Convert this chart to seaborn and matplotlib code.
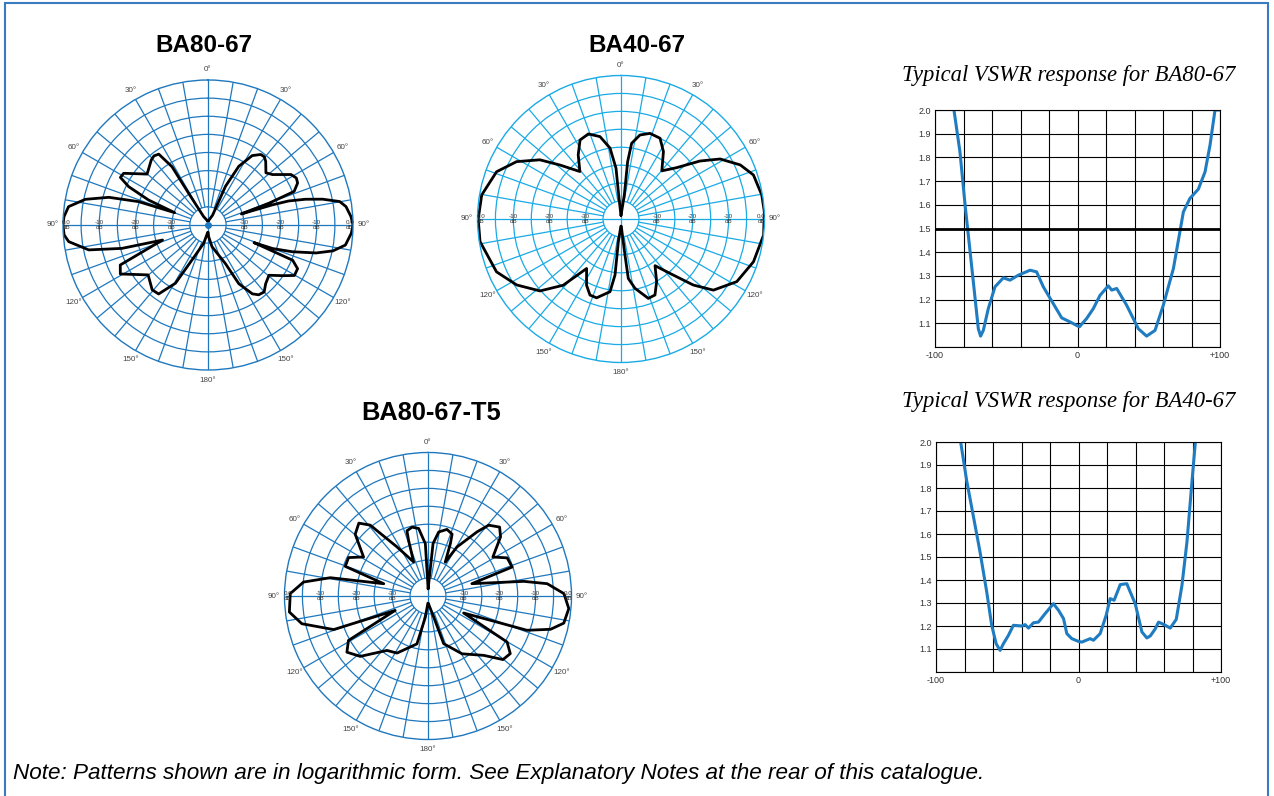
import numpy as np
import pandas as pd
import seaborn as sns
import matplotlib.pyplot as plt
from matplotlib.patches import Rectangle

# radiation patterns: angle from the top (deg), level relative to peak (dB)
# right half in drawing order, left half read the other way round from the top
ba80_right_deg = [0, 25, 24.3, 27.7, 32.5, 36.8, 39.5, 42.2, 48, 52, 58.7, 62, 64.9, 68.7, 70.3,
                  71.7, 72.6, 73.4, 75.2, 77.3, 79.9, 82.4, 86.6, 90, 93.3, 98.3, 101.7, 104.5,
                  107.6, 110, 111, 112.6, 116, 120.3, 124, 129.5, 135.5, 140, 144, 147.2, 152.3,
                  155.7, 169.5, 177, 179]
ba80_right_db = [-39, -37, -28.3, -21.7, -17.3, -15.7, -15.6, -16.3, -18.5, -17.4, -13.2, -12.4,
                 -12.7, -14.5, -22, -30.3, -21.5, -16.8, -12.2, -7.6, -3.1, -1.6, -0.5, 0, -0.4,
                 -1.7, -4.8, -9.2, -15.6, -21, -26.4, -14.7, -12.5, -12.4, -15, -18.2, -17.3,
                 -15.9, -16.2, -17.4, -21.7, -28.3, -33.9, -36.8, -38]
ba80_left_deg = [27.5, 31.4, 31.7, 34.8, 38, 41.1, 50.1, 58.5, 61.5, 64.2, 67.2, 69.7, 71.4, 74.4,
                 78.2, 82.5, 86.7, 90, 93.9, 96.8, 101.8, 105.2, 108.3, 114.5, 119.2, 129.8,
                 139.3, 144.4, 150.8, 155.4, 166.7, 178]
ba80_left_db = [-37.4, -29.8, -21.1, -16.2, -15.8, -16.2, -18.1, -12.7, -12.5, -15.7, -22.2,
                -30.2, -19.8, -11.6, -5.4, -1.2, -0.2, 0, -0.2, -1.3, -6.4, -15.4, -26.8, -13.4,
                -12.3, -18.5, -16.4, -16.6, -21.6, -29.4, -34.8, -38]

ba40_right_deg = [0, 7.9, 6.6, 8, 12.7, 18.7, 25.8, 32.2, 40.3, 47.3, 53.7, 58.8, 65.6, 71.6,
                  80.3, 87, 96.4, 107.9, 118.4, 127.6, 132.4, 138, 143.9, 150.4, 155.9, 161,
                  168.6, 173, 173.7, 178]
ba40_right_db = [-39, -33.2, -23.9, -18.7, -16, -14.8, -15, -17.8, -22.4, -18.9, -12.7, -7.7,
                 -3.5, -1.1, -0.2, 0, 0, -1.2, -3.3, -7.5, -12.7, -19.6, -23.9, -19.9, -16.8,
                 -16.6, -20.3, -23.3, -29.9, -38]
ba40_left_deg = [5.5, 5.6, 8.8, 14.3, 21, 27.4, 33.7, 40.9, 48.5, 53.9, 61.2, 69.2, 80.2, 90,
                 99.1, 113, 122.3, 131.6, 138.9, 145.2, 152.5, 157.8, 162.8, 171.4, 173.9,
                 173.3, 179]
ba40_left_db = [-34.2, -25.8, -20, -16.3, -14.6, -15.2, -18.5, -22.5, -17.3, -12, -6.8, -2.9,
                -0.6, -0.2, -0.2, -2.3, -5.6, -9.8, -15.5, -23.2, -19.2, -17.1, -17, -19.5,
                -24.3, -33.7, -38]

t5_right_deg = [1, 5.5, 9.5, 15.9, 21.3, 23.1, 27, 30.6, 37.4, 40.6, 46.1, 50.8, 59, 64.3, 71,
                74.3, 81.3, 84.1, 89, 95.1, 101.3, 105.2, 109.1, 115.5, 120.2, 125, 130.3,
                136.8, 149.5, 161.8, 164.9, 178]
t5_right_db = [-38, -25.3, -21.9, -20.7, -21.5, -24.1, -29.4, -24.1, -17.5, -14, -12.3, -13.9,
               -18.9, -15.5, -15.2, -27.3, -13, -6.6, -2.1, -0.6, -1.4, -4.6, -10.8, -29, -14.5,
               -12, -12.6, -17.3, -21.3, -26, -34, -38]
t5_left_deg = [2.9, 7.9, 13, 17.9, 19.2, 22.9, 32.3, 39.2, 43.5, 49.7, 58.8, 64.2, 70.3, 74.5,
               79.4, 83.6, 89, 96.6, 102.4, 109.6, 113.7, 119.2, 124.7, 131.7, 143, 151.5, 167,
               172.8, 179]
t5_left_db = [-25.4, -21, -20.3, -20.9, -23.5, -29.7, -23.8, -14.5, -12, -13.4, -19, -15.4,
              -15.5, -27.2, -12.3, -5.1, -1.6, -1.1, -4, -12.1, -30, -14.6, -12.5, -14.7, -21,
              -21.9, -26.3, -34, -38]

# VSWR responses: frequency offset vs VSWR
vswr80_x = [-86.7, -82.5, -78.9, -73.1, -69.6, -68, -66.1, -62.6, -57.9, -52, -47.4, -41.5,
            -33.3, -28.7, -24, -17, -11.1, -5.3, 1.3, 6.4, 11.1, 15.8, 21.6, 24, 27.5, 34.5,
            42.7, 48.5, 54.4, 60.2, 67.3, 74.3, 78.9, 84.8, 89.5, 93, 96.5, 100]
vswr80_y = [2.0, 1.824, 1.60, 1.275, 1.077, 1.046, 1.07, 1.162, 1.254, 1.292, 1.282, 1.303,
            1.324, 1.317, 1.254, 1.183, 1.123, 1.106, 1.085, 1.12, 1.162, 1.218, 1.258, 1.24,
            1.247, 1.176, 1.077, 1.046, 1.07, 1.176, 1.331, 1.570, 1.627, 1.666, 1.739, 1.852,
            2.0, 2.0]
vswr40_x = [-82.7, -78.5, -72.6, -69.1, -64.4, -60.9, -57.8, -55, -52.7, -49.2, -45.7, -39.8,
            -37.5, -35.1, -31.6, -28.1, -23.4, -17.6, -14, -10.5, -8.2, -4.7, 0, 2.3, 8.2,
            10.5, 15.2, 19.4, 22.2, 25, 29.3, 33.9, 36.3, 39.8, 44.5, 48, 50.4, 53.9, 56.2,
            59.7, 64.4, 68.6, 72.6, 76.1, 79.6, 82]
vswr40_y = [2.0, 1.833, 1.638, 1.522, 1.348, 1.203, 1.123, 1.094, 1.123, 1.159, 1.203, 1.2,
            1.206, 1.191, 1.214, 1.217, 1.254, 1.297, 1.268, 1.232, 1.167, 1.145, 1.133, 1.13,
            1.145, 1.138, 1.167, 1.246, 1.319, 1.312, 1.38, 1.384, 1.348, 1.297, 1.174, 1.148,
            1.157, 1.188, 1.217, 1.207, 1.191, 1.229, 1.377, 1.565, 1.826, 2.0]

angle_labels = ['0°', '30°', '60°', '90°', '120°', '150°', '180°',
                '150°', '120°', '90°', '60°', '30°']
ring_levels = [-0.9, -10, -20, -30]
ring_labels = ['0.0', '-10', '-20', '-30']
x_labels = ['-100', '', '', '', '', '0', '', '', '', '', '+100']
y_labels = ['', '1.1', '1.2', '1.3', '1.4', '1.5', '1.6', '1.7', '1.8', '1.9', '2.0']


def pattern_df(r_deg, r_db, l_deg, l_db):
    # right side top->bottom, then left side bottom->top, closed at the top
    theta = list(r_deg) + [360 - a for a in l_deg[::-1]] + [r_deg[0] + 360]
    db = list(r_db) + list(l_db[::-1]) + [r_db[0]]
    return pd.DataFrame({'theta': np.deg2rad(theta), 'db': db})


def polar_pattern(ax, df, grid_col, centre_dot=False):
    ax.set_theta_zero_location('N')
    ax.set_theta_direction(-1)
    ax.set_facecolor('white')
    ax.set_yticks(np.arange(-35, 0, 5))
    ax.set_yticklabels([])
    ax.yaxis.grid(True, color=grid_col, lw=0.9)
    ax.xaxis.grid(False)
    ax.set_xticks(np.deg2rad(np.arange(0, 360, 30)))
    ax.set_xticklabels(angle_labels)
    ax.tick_params(axis='x', labelsize=5.8, labelcolor='#444444', pad=-3)
    ax.spines['polar'].set_color(grid_col)
    ax.spines['polar'].set_linewidth(1.0)
    ax.vlines(np.deg2rad(np.arange(0, 360, 10)), -35, 0, colors=grid_col, lw=0.9)
    ax.vlines(np.deg2rad([0, 90, 180, 270]), -40, -35, colors=grid_col, lw=0.9)

    sns.lineplot(data=df, x='theta', y='db', sort=False, estimator=None,
                 color='black', lw=2.0, ax=ax)
    ax.set_ylim(-40, 0)
    ax.set_xlabel('')
    ax.set_ylabel('')

    for side in (90, 270):
        for r, lab in zip(ring_levels, ring_labels):
            ax.text(np.deg2rad(side), r, lab, fontsize=4.5, color='#333333',
                    ha='center', va='bottom')
            ax.text(np.deg2rad(side), r, 'dB', fontsize=4.5, color='#333333',
                    ha='center', va='top')
    if centre_dot:
        ax.plot([0], [-40], 'o', color=grid_col, ms=4, clip_on=False)


def vswr_panel(ax, xs, ys, spec=False):
    sns.lineplot(x=xs, y=ys, sort=False, estimator=None, color='#1f7cc1', lw=2.2, ax=ax)
    ax.set_xlim(-100, 100)
    ax.set_ylim(1.0, 2.0)
    ax.set_xticks(np.arange(-100, 101, 20))
    ax.set_xticklabels(x_labels)
    ax.set_yticks(np.round(np.arange(1.0, 2.01, 0.1), 1))
    ax.set_yticklabels(y_labels)
    ax.grid(True, color='black', lw=0.8)
    ax.tick_params(length=0, labelsize=6.5, labelcolor='#333333', pad=3)
    if spec:
        ax.axhline(1.5, color='black', lw=2)
    for s in ax.spines.values():
        s.set_color('black')
        s.set_linewidth(0.8)
    ax.set_xlabel('')
    ax.set_ylabel('')


sns.set_style('white')
plt.rcParams['font.family'] = ['Liberation Sans', 'DejaVu Sans']
plt.rcParams['text.color'] = 'black'

W, H = 1274, 796
fig = plt.figure(figsize=(W / 100, H / 100), dpi=100)


def px_axes(cx, cy, r, **kw):
    return fig.add_axes([(cx - r) / W, (H - cy - r) / H, 2 * r / W, 2 * r / H], **kw)


ax1 = px_axes(208, 225, 145, projection='polar')
polar_pattern(ax1, pattern_df(ba80_right_deg, ba80_right_db, ba80_left_deg, ba80_left_db),
              '#1f78be', centre_dot=True)
ax2 = px_axes(621, 219, 143.5, projection='polar')
polar_pattern(ax2, pattern_df(ba40_right_deg, ba40_right_db, ba40_left_deg, ba40_left_db),
              '#1aaae6')
ax3 = px_axes(428, 596, 143.5, projection='polar')
polar_pattern(ax3, pattern_df(t5_right_deg, t5_right_db, t5_left_deg, t5_left_db), '#1f78be')

ax4 = fig.add_axes([935 / W, (H - 347) / H, 285 / W, 237 / H])
vswr_panel(ax4, vswr80_x, vswr80_y, spec=True)
ax5 = fig.add_axes([936 / W, (H - 672) / H, 285 / W, 230 / H])
vswr_panel(ax5, vswr40_x, vswr40_y)

for x, y, name, size in ((204, 46, 'BA80-67', 17.5), (637, 46, 'BA40-67', 17.5),
                         (431, 413, 'BA80-67-T5', 18.3)):
    fig.text(x / W, 1 - y / H, name, fontsize=size, fontweight='bold', color='black',
             ha='center', va='center')

for y, name in ((75, 'BA80-67'), (401, 'BA40-67')):
    fig.text(1069 / W, 1 - y / H, 'Typical VSWR response for ' + name, fontsize=16.3,
             style='italic', family='Liberation Serif', color='black', ha='center', va='center')

fig.text(13 / W, 1 - 774 / H,
         'Note: Patterns shown are in logarithmic form. See Explanatory Notes at the rear of this catalogue.',
         fontsize=16.2, style='italic', color='black', ha='left', va='center')

fig.patches.append(Rectangle((5 / W, -0.02), 1263 / W, 1.02 - 3 / H, transform=fig.transFigure,
                             fill=False, edgecolor='#3a7bbf', lw=1.5))

fig.savefig('out.png', dpi=100)
